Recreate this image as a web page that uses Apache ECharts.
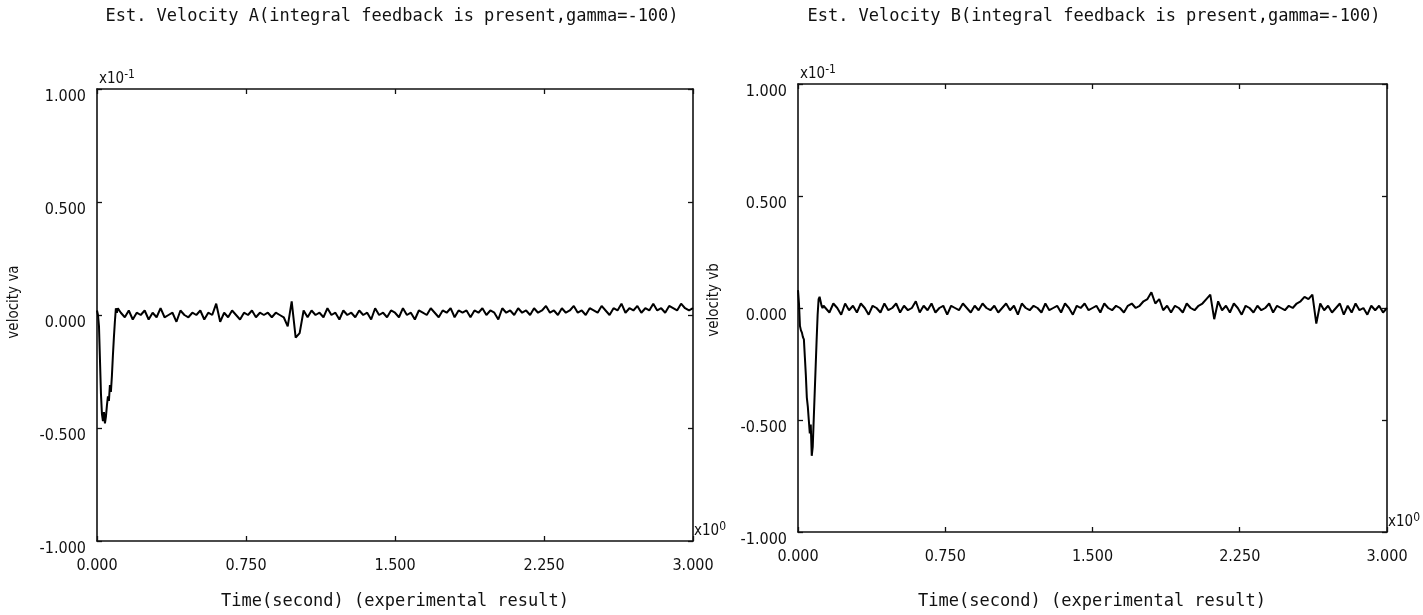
<!DOCTYPE html>
<html>
<head>
<meta charset="utf-8">
<title>Est. Velocity A / B</title>
<script src="https://cdn.jsdelivr.net/npm/echarts@6/dist/echarts.min.js"></script>
<style>
  html, body { margin: 0; padding: 0; background: #fff; }
  #chart { width: 1423px; height: 615px; }
</style>
</head>
<body>
<div id="chart"></div>
<script>
/* Est. velocity A and B, integral feedback present (gamma = -100) */

// axis ticks (time in x10^0 s, velocity in x10^-1)
const timeTicks = [0, 0.75, 1.5, 2.25, 3.0]
const velTicks = [-1, -0.5, 0, 0.5, 1]

// start-up transient, sampled every 5 ms from t = 0
const fineStep = 0.005
const velA_start = [0.02, 0.00, -0.05, -0.20, -0.35, -0.44, -0.47, -0.43, -0.48, -0.45,
  -0.40, -0.36, -0.38, -0.31, -0.34, -0.27, -0.18, -0.10, -0.03, 0.03, 0.01, 0.03]
const velB_start = [0.08, 0.02, -0.08, -0.10, -0.11, -0.13, -0.14, -0.22, -0.30, -0.40,
  -0.44, -0.50, -0.56, -0.52, -0.66, -0.62, -0.50, -0.38, -0.26, -0.14, -0.03, 0.04,
  0.05, 0.03, 0.01, 0.00, 0.01]

// steady part, sampled every 20 ms up to t = 3.0
const coarseStep = 0.02
const velA_from = 0.12
const velA_rest = [
  0.01, -0.01, 0.02, -0.02, 0.01, 0.00, 0.02, -0.02, 0.01, -0.01,
  0.03, -0.01, 0.00, 0.01, -0.03, 0.02, 0.00, -0.01, 0.01, 0.00,
  0.02, -0.02, 0.01, 0.00, 0.05, -0.03, 0.01, -0.01, 0.02, 0.00,
  -0.02, 0.01, 0.00, 0.02, -0.01, 0.01, 0.00, 0.01, -0.01, 0.01,
  0.00, -0.01, -0.05, 0.06, -0.10, -0.08, 0.02, -0.01, 0.02, 0.00,
  0.01, -0.01, 0.03, 0.00, 0.01, -0.02, 0.02, 0.00, 0.01, -0.01,
  0.02, 0.00, 0.01, -0.02, 0.03, 0.00, 0.01, -0.01, 0.02, 0.01,
  -0.01, 0.03, 0.00, 0.01, -0.02, 0.02, 0.01, 0.00, 0.03, 0.01,
  -0.01, 0.02, 0.01, 0.03, -0.01, 0.02, 0.01, 0.02, -0.01, 0.02,
  0.01, 0.03, 0.00, 0.02, 0.01, -0.02, 0.03, 0.01, 0.02, 0.00,
  0.03, 0.01, 0.02, 0.00, 0.03, 0.01, 0.02, 0.04, 0.01, 0.02,
  0.00, 0.03, 0.01, 0.02, 0.04, 0.01, 0.02, 0.00, 0.03, 0.02,
  0.01, 0.04, 0.02, 0.00, 0.03, 0.02, 0.05, 0.01, 0.03, 0.02,
  0.04, 0.01, 0.03, 0.02, 0.05, 0.02, 0.03, 0.01, 0.04, 0.03,
  0.02, 0.05, 0.03, 0.02, 0.03]
const velB_from = 0.14
const velB_rest = [
  0.01, -0.02, 0.02, 0.00, -0.03, 0.02, -0.01, 0.01, -0.02, 0.02,
  0.00, -0.03, 0.01, 0.00, -0.02, 0.02, -0.01, 0.00, 0.02, -0.02,
  0.01, -0.01, 0.00, 0.03, -0.02, 0.01, -0.01, 0.02, -0.02, 0.00,
  0.01, -0.03, 0.01, 0.00, -0.01, 0.02, 0.00, -0.02, 0.01, -0.01,
  0.02, 0.00, -0.01, 0.01, -0.02, 0.00, 0.02, -0.01, 0.01, -0.03,
  0.02, 0.00, -0.01, 0.01, 0.00, -0.02, 0.02, -0.01, 0.00, 0.01,
  -0.02, 0.02, 0.00, -0.03, 0.01, 0.00, 0.02, -0.01, 0.00, 0.01,
  -0.02, 0.02, 0.00, -0.01, 0.01, 0.00, -0.02, 0.01, 0.02, 0.00,
  0.01, 0.03, 0.04, 0.07, 0.02, 0.04, -0.01, 0.01, -0.02, 0.01,
  0.00, -0.02, 0.02, 0.00, -0.01, 0.01, 0.02, 0.04, 0.06, -0.05,
  0.03, -0.01, 0.01, -0.02, 0.02, 0.00, -0.03, 0.01, 0.00, -0.02,
  0.01, -0.01, 0.00, 0.02, -0.02, 0.01, 0.00, -0.01, 0.01, 0.00,
  0.02, 0.03, 0.05, 0.04, 0.06, -0.07, 0.02, -0.01, 0.01, -0.02,
  0.00, 0.02, -0.03, 0.01, -0.02, 0.02, -0.01, 0.00, -0.03, 0.01,
  -0.01, 0.01, -0.02, 0.00]

const toPairs = (start, step, vals) => vals.map((v, i) => [+(start + i * step).toFixed(3), v])
const seriesA = toPairs(0, fineStep, velA_start).concat(toPairs(velA_from, coarseStep, velA_rest))
const seriesB = toPairs(0, fineStep, velB_start).concat(toPairs(velB_from, coarseStep, velB_rest))

const narrow = '"Liberation Sans Narrow", "DejaVu Sans Condensed", sans-serif'
const mono = '"DejaVu Sans Mono", "Liberation Mono", monospace'
const ink = '#111'

const grids = [
  {left: 97, top: 89, width: 596, height: 452},
  {left: 798, top: 84, width: 594, height: 448}
]

const fmt = v => v.toFixed(3)
const boxLine = {show: true, onZero: false, lineStyle: {color: ink, width: 1.6}}
const tick = {show: true, inside: true, length: 5, lineStyle: {color: ink, width: 1.3}}
const powRich = {
  a: {fontFamily: narrow, fontSize: 15, color: ink},
  b: {fontFamily: narrow, fontSize: 12, color: ink, padding: [0, 0, 8, 0]}
}

let xAxis = [], yAxis = []
grids.forEach((g, i) => {
  xAxis.push({
    gridIndex: i, type: 'value', position: 'bottom', min: timeTicks[0],
    max: timeTicks[timeTicks.length - 1], interval: timeTicks[1] - timeTicks[0],
    axisLine: boxLine, axisTick: tick, splitLine: {show: false},
    axisLabel: {formatter: fmt, color: ink, fontFamily: narrow, fontSize: 16, margin: 17},
    name: '{a|x10}{b|0}', nameLocation: 'end', nameGap: 1,
    nameTextStyle: {verticalAlign: 'bottom', align: 'left', rich: powRich}
  })
  xAxis.push({
    gridIndex: i, type: 'value', position: 'top', min: timeTicks[0],
    max: timeTicks[timeTicks.length - 1], interval: timeTicks[1] - timeTicks[0],
    axisLine: boxLine, axisTick: tick, axisLabel: {show: false}, splitLine: {show: false}
  })
  yAxis.push({
    gridIndex: i, type: 'value', position: 'left', min: velTicks[0],
    max: velTicks[velTicks.length - 1], interval: velTicks[1] - velTicks[0],
    axisLine: boxLine, axisTick: tick, splitLine: {show: false},
    axisLabel: {formatter: fmt, color: ink, fontFamily: narrow, fontSize: 16, margin: 11, verticalAlign: 'top'},
    name: '{a|x10}{b|-1}', nameLocation: 'end', nameGap: 0,
    nameTextStyle: {align: 'left', verticalAlign: 'bottom', padding: [0, 0, 0, 2], rich: powRich}
  })
  yAxis.push({
    gridIndex: i, type: 'value', position: 'right', min: velTicks[0],
    max: velTicks[velTicks.length - 1], interval: velTicks[1] - velTicks[0],
    axisLine: boxLine, axisTick: tick, axisLabel: {show: false}, splitLine: {show: false}
  })
})

const textEl = (x, y, text, font, rotation) => ({
  type: 'text', x: x, y: y, rotation: rotation || 0,
  style: {text: text, font: font, fill: ink, align: 'center', verticalAlign: 'middle'}
})

const option = {
  backgroundColor: '#fff',
  animation: false,
  grid: grids,
  xAxis: xAxis,
  yAxis: yAxis,
  graphic: [
    textEl(392, 17, 'Est. Velocity A(integral feedback is present,gamma=-100)', '17px ' + mono),
    textEl(1094, 17, 'Est. Velocity B(integral feedback is present,gamma=-100)', '17px ' + mono),
    textEl(395, 602, 'Time(second) (experimental result)', '17px ' + mono),
    textEl(1092, 602, 'Time(second) (experimental result)', '17px ' + mono),
    textEl(14, 302, 'velocity va', '15px ' + narrow, Math.PI / 2),
    textEl(714, 300, 'velocity vb', '15px ' + narrow, Math.PI / 2)
  ],
  series: [
    {
      name: 'velocity va', type: 'line', xAxisIndex: 0, yAxisIndex: 0,
      showSymbol: false, lineStyle: {color: '#000', width: 2}, data: seriesA
    },
    {
      name: 'velocity vb', type: 'line', xAxisIndex: 2, yAxisIndex: 2,
      showSymbol: false, lineStyle: {color: '#000', width: 2}, data: seriesB
    }
  ]
}

const mychart = echarts.init(document.getElementById('chart'))
mychart.setOption(option)
</script>
</body>
</html>
